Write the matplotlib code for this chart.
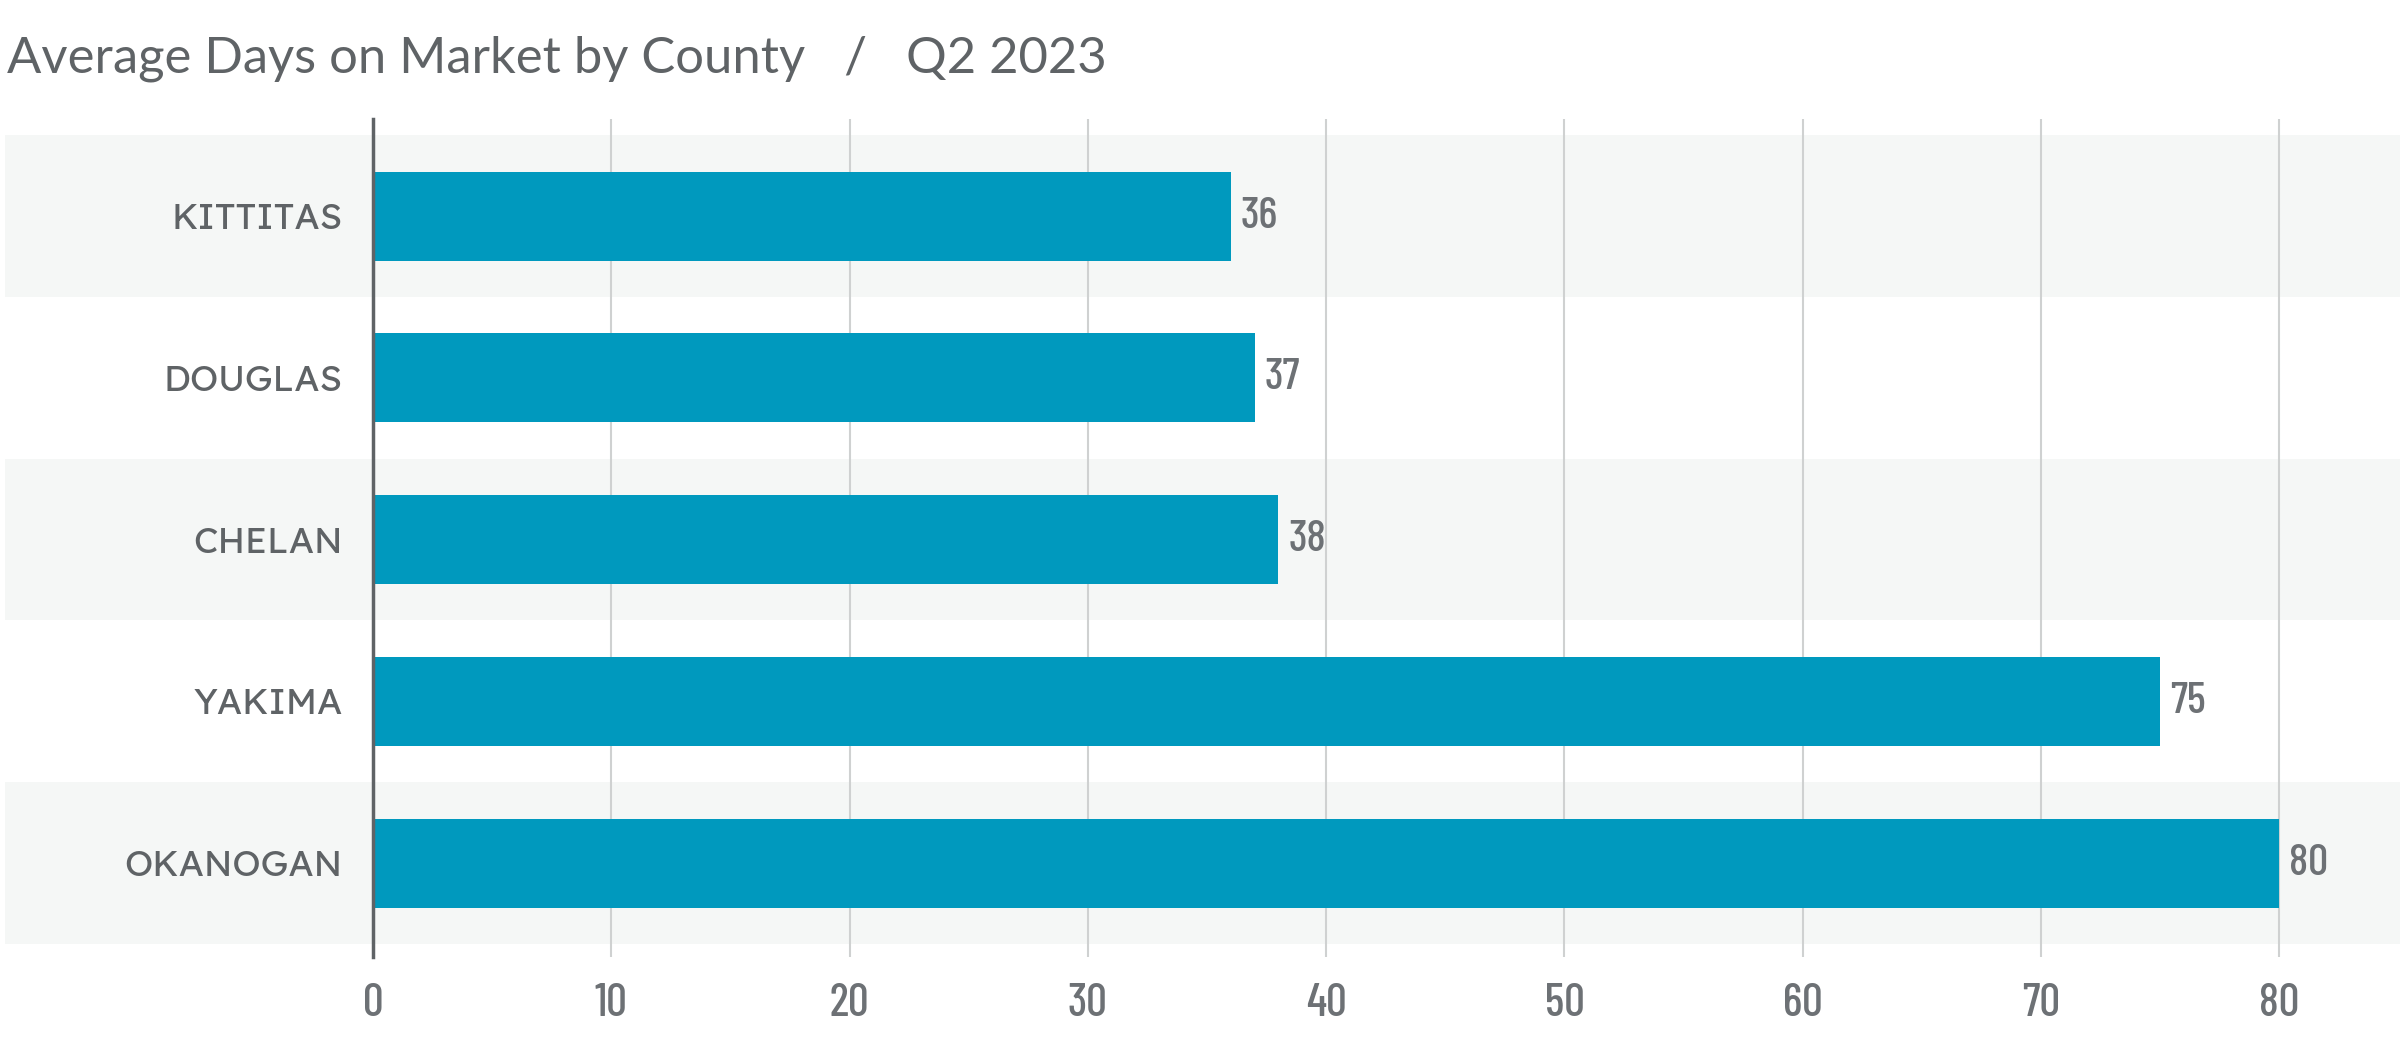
import matplotlib
matplotlib.use("Agg")
import matplotlib.pyplot as plt
import matplotlib.transforms as mtransforms
from matplotlib.patches import Rectangle
from matplotlib import font_manager as fm
import numpy as np

counties = ["KITTITAS", "DOUGLAS", "CHELAN", "YAKIMA", "OKANOGAN"]
days = [36, 37, 38, 75, 80]
x_ticks = [0, 10, 20, 30, 40, 50, 60, 70, 80]
title = "Average Days on Market by County   /   Q2 2023"

BAR = "#0099BE"
TXT = "#5f6366"
NUM = "#6d7175"
BAND = "#f5f7f6"
GRID = "#cfd1d1"


def pick_regular(cands):
    for c in cands:
        for f in fm.fontManager.ttflist:
            if f.name == c and f.style == "normal" and f.weight in (400, "normal", "regular"):
                return c
    return "DejaVu Sans"


lab_choice = pick_regular(["Lexend Deca", "Lexend Exa", "Open Sans", "Lato"])
lab_sizes = {"Lexend Deca": 26, "Lexend Exa": 23}
num_font = ["Barlow Condensed", "DejaVu Sans"]
lab_font = [lab_choice, "DejaVu Sans"]
title_font = ["Lato", "DejaVu Sans"]
lab_size = lab_sizes.get(lab_choice, 25)

fig = plt.figure(figsize=(24, 10.64), dpi=100)
ax = fig.add_axes([0.1554, 0.1006, 0.834, 0.7876])

y = np.arange(len(counties))
ax.barh(y, days, height=0.55, color=BAR, zorder=2)

ax.set_xlim(0, 84)
ax.set_ylim(4.58, -0.6)

# alternating background bands across the full figure width
trans = mtransforms.blended_transform_factory(fig.transFigure, ax.transData)
for i in y:
    if i % 2 == 0:
        r = Rectangle((0.002, i - 0.5), 0.998, 1.0, transform=trans,
                      facecolor=BAND, edgecolor="none", zorder=0, clip_on=False)
        fig.add_artist(r)
ax.patch.set_alpha(0)
fig.patch.set_facecolor("white")

ax.set_xticks(x_ticks)
ax.set_xticklabels([str(t) for t in x_ticks], family=num_font, fontsize=33,
                   color=NUM, weight="medium")
ax.set_yticks(y)
ax.set_yticklabels(counties, family=lab_font, fontsize=lab_size, color=TXT)
ax.tick_params(axis="x", length=0, pad=19)
ax.tick_params(axis="y", length=0, pad=22)

ax.set_axisbelow(True)
ax.xaxis.grid(True, color=GRID, linewidth=1.5)
ax.yaxis.grid(False)
for s in ["top", "right", "bottom"]:
    ax.spines[s].set_visible(False)
ax.spines["left"].set_color(TXT)
ax.spines["left"].set_linewidth(2.5)
ax.spines["left"].set_zorder(3)

for yi, v in zip(y, days):
    ax.annotate(str(v), (v, yi), xytext=(7, 0), textcoords="offset points",
                va="center", ha="left", family=num_font, fontsize=32,
                color=NUM, weight="medium")

fig.text(0.003, 1 - 73 / 1064, title, family=title_font, fontsize=36.5,
         color=TXT, ha="left", va="baseline")

fig.savefig("out.png", dpi=100)
